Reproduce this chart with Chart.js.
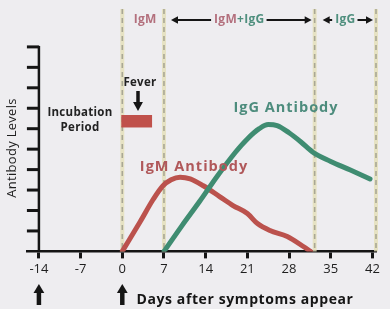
<!DOCTYPE html>
<html>
<head>
<meta charset="utf-8">
<script src="https://cdn.jsdelivr.net/npm/chart.js@4.4.1/dist/chart.umd.min.js"></script>
<style>
  html, body { margin: 0; padding: 0; background: #eeedf0; }
</style>
</head>
<body>
<canvas id="antibody-chart" width="390" height="309"></canvas>
<script>
// days after symptoms appear
const xTicks = [-14, -7, 0, 7, 14, 21, 28, 35, 42];
const yTicks = [1, 2, 3, 4, 5, 6, 7, 8, 9, 10];

const igmDays   = [0, 3, 5.2, 6.8, 8.2, 9.7, 11.4, 13.6, 16.4, 18.6, 21, 22.7, 24.8, 27.7, 30.4, 31.6];
const igmLevels = [0, 1.45, 2.55, 3.2, 3.5, 3.63, 3.55, 3.21, 2.67, 2.24, 1.85, 1.36, 1.02, 0.73, 0.24, 0];

const iggDays   = [7, 10, 13, 16, 19, 21, 23, 24.5, 26, 28, 30, 32, 35, 38.3, 41.6];
const iggLevels = [0, 1.25, 2.45, 3.7, 4.85, 5.5, 6.0, 6.2, 6.15, 5.8, 5.35, 4.85, 4.4, 3.98, 3.54];

const phaseDays = [0, 7, 32.3, 42.6];
const markerDays = [-14, 0];

const RED = '#bb524d';
const GREEN = '#3f8c71';
const INK = '#151515';
const FONT = '"Open Sans", sans-serif';

function arrow(ctx, x1, y1, x2, y2, head, width, color, spread) {
  const a = Math.atan2(y2 - y1, x2 - x1);
  const c = Math.cos(a), s = Math.sin(a);
  const k = spread || 0.55;
  ctx.save();
  ctx.strokeStyle = color;
  ctx.fillStyle = color;
  ctx.lineWidth = width;
  ctx.beginPath();
  ctx.moveTo(x1, y1);
  ctx.lineTo(x2 - c * head * 0.8, y2 - s * head * 0.8);
  ctx.stroke();
  ctx.beginPath();
  ctx.moveTo(x2, y2);
  ctx.lineTo(x2 - c * head + s * head * k, y2 - s * head - c * head * k);
  ctx.lineTo(x2 - c * head - s * head * k, y2 - s * head + c * head * k);
  ctx.closePath();
  ctx.fill();
  ctx.restore();
}

function label(ctx, str, x, y, size, color, spacing, align) {
  ctx.font = 'bold ' + size + 'px ' + FONT;
  ctx.letterSpacing = (spacing || 0) + 'px';
  ctx.fillStyle = color;
  ctx.textAlign = align || 'center';
  ctx.textBaseline = 'middle';
  ctx.fillText(str, x, y);
  const w = ctx.measureText(str).width;
  ctx.letterSpacing = '0px';
  return w;
}

function rangeLabel(ctx, xL, xR, y, parts, gapL, gapR) {
  ctx.font = 'bold 12px ' + FONT;
  ctx.letterSpacing = '0.3px';
  const total = parts.reduce((s, p) => s + ctx.measureText(p[0]).width, 0);
  ctx.letterSpacing = '0px';
  let tx = (xL + xR) / 2 - total / 2;
  arrow(ctx, tx - 3, y, xL + gapL, y, 7, 2, INK);
  parts.forEach(p => {
    tx += label(ctx, p[0], tx, y, 12, p[1], 0.3, 'left');
  });
  arrow(ctx, tx + 2, y, xR - gapR, y, 7, 2, INK);
}

const extras = {
  id: 'extras',
  beforeDraw(chart) {
    const ctx = chart.ctx;
    ctx.save();
    ctx.fillStyle = '#eeedf0';
    ctx.fillRect(0, 0, chart.width, chart.height);
    ctx.restore();
  },
  beforeDatasetsDraw(chart) {
    const { ctx, scales: { x, y } } = chart;
    const top = y.getPixelForValue(11.85);
    const bottom = y.getPixelForValue(0);
    ctx.save();
    phaseDays.forEach(d => {
      const px = x.getPixelForValue(d);
      ctx.strokeStyle = 'rgba(228,222,184,0.8)';
      ctx.lineWidth = 4;
      ctx.beginPath(); ctx.moveTo(px, top); ctx.lineTo(px, bottom); ctx.stroke();
      ctx.strokeStyle = '#a9a794';
      ctx.lineWidth = 1.6;
      ctx.setLineDash([5, 4]);
      ctx.beginPath(); ctx.moveTo(px, top); ctx.lineTo(px, bottom); ctx.stroke();
      ctx.setLineDash([]);
    });
    ctx.restore();
  },
  afterDatasetsDraw(chart) {
    const { ctx, scales: { x, y } } = chart;
    ctx.save();

    // y axis at day -14
    const ax = x.getPixelForValue(-14);
    ctx.strokeStyle = INK;
    ctx.lineWidth = 2.5;
    ctx.beginPath();
    ctx.moveTo(ax, y.getPixelForValue(10) - 1);
    ctx.lineTo(ax, y.getPixelForValue(0));
    ctx.stroke();
    ctx.lineWidth = 3;
    yTicks.forEach(v => {
      const py = y.getPixelForValue(v);
      ctx.beginPath(); ctx.moveTo(ax - 12, py); ctx.lineTo(ax, py); ctx.stroke();
    });

    // axis titles
    ctx.save();
    ctx.translate(12, 148);
    ctx.rotate(-Math.PI / 2);
    ctx.font = '500 13px ' + FONT;
    ctx.letterSpacing = '0.3px';
    ctx.fillStyle = '#1e1e1e';
    ctx.textAlign = 'center';
    ctx.textBaseline = 'middle';
    ctx.fillText('Antibody Levels', 0, 0);
    ctx.restore();

    label(ctx, 'Days after symptoms appear', 245, 300, 14, INK, 0.6);

    // markers under -14 and 0
    markerDays.forEach(d => {
      const px = x.getPixelForValue(d);
      arrow(ctx, px, 305, px, 284, 9, 4.5, INK, 0.6);
    });

    // incubation / fever
    label(ctx, 'Incubation', 80, 113, 11.5, '#222', 0.3);
    label(ctx, 'Period', 80, 128, 11.5, '#222', 0.3);
    label(ctx, 'Fever', 140, 83, 11.5, '#222', 0.3);
    arrow(ctx, 138, 91, 138, 111, 9, 3.5, INK);
    ctx.fillStyle = '#c0514b';
    const r0 = x.getPixelForValue(0) - 1, r1 = x.getPixelForValue(5);
    const t0 = y.getPixelForValue(6.67), t1 = y.getPixelForValue(6.06);
    ctx.fillRect(r0, t0, r1 - r0, t1 - t0);

    // series labels
    label(ctx, 'IgM Antibody', 194, 167, 14.5, '#b0585a', 1);
    label(ctx, 'IgG Antibody', 286, 108, 14.5, '#4d8c7d', 1);

    // phase labels along the top
    const p = phaseDays.map(d => x.getPixelForValue(d));
    label(ctx, 'IgM', (p[0] + p[1]) / 2 + 2, 20, 12, '#b3707d', 0.3);
    rangeLabel(ctx, p[1], p[2], 20, [['IgM', '#b3707d'], ['+IgG', '#4f8f7e']], 7, 3);
    rangeLabel(ctx, p[2], p[3], 20, [['IgG', '#4f8f7e']], 8, 3);

    ctx.restore();
  }
};

const ctx = document.getElementById('antibody-chart').getContext('2d');
const chart = new Chart(ctx, {
  type: 'line',
  data: {
    datasets: [
      {
        label: 'IgG Antibody',
        data: iggDays.map((d, i) => ({ x: d, y: iggLevels[i] })),
        borderColor: GREEN,
        borderWidth: 5,
        cubicInterpolationMode: 'monotone',
        pointRadius: 0,
        borderCapStyle: 'round',
        borderJoinStyle: 'round'
      },
      {
        label: 'IgM Antibody',
        data: igmDays.map((d, i) => ({ x: d, y: igmLevels[i] })),
        borderColor: RED,
        borderWidth: 5,
        cubicInterpolationMode: 'monotone',
        pointRadius: 0,
        borderCapStyle: 'round',
        borderJoinStyle: 'round'
      }
    ]
  },
  options: {
    responsive: false,
    animation: false,
    layout: { padding: { left: 27, right: 14, top: 6, bottom: 29 } },
    plugins: { legend: { display: false }, tooltip: { enabled: false } },
    scales: {
      x: {
        type: 'linear',
        min: -16,
        max: 42.6,
        afterBuildTicks: axis => { axis.ticks = xTicks.map(v => ({ value: v })); },
        grid: { drawOnChartArea: false, tickLength: 7, tickColor: INK, tickWidth: 3 },
        border: { color: INK, width: 2.5 },
        ticks: { color: '#1e1e1e', padding: 3, maxRotation: 0, autoSkip: false, font: { family: FONT, size: 13 } }
      },
      y: { min: 0, max: 12, display: false }
    }
  },
  plugins: [extras]
});
</script>
</body>
</html>
